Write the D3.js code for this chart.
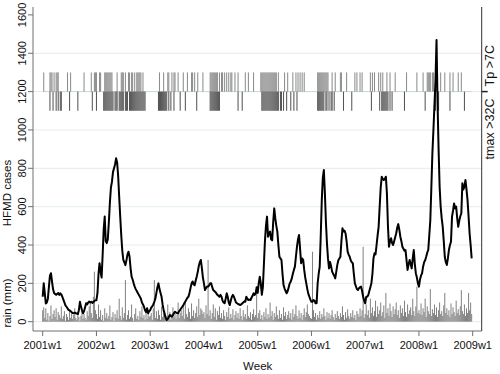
<!DOCTYPE html>
<html>
<head>
<meta charset="utf-8">
<script src="https://cdn.jsdelivr.net/npm/d3@7"></script>
<style>
  body { margin: 0; background: #fff; }
  text { font-family: "Liberation Sans", Arial, sans-serif; fill: #111; }
</style>
</head>
<body>
<div id="chart"></div>
<script>
// weekly HFMD case counts, 2001w1 .. 2008w52 (one row per year)
const hfmdCases = [
  130,200,150,95,100,120,180,240,253,210,170,150,145,140,145,150,140,148,142,130,115,100,85,78,70,61,60,55,50,45,44,48,44,42,40,60,104,80,60,44,55,75,96,90,100,105,100,104,98,102,108,112,
  112,150,250,305,260,230,350,480,548,420,410,430,520,620,700,730,780,800,820,852,830,760,650,548,450,370,322,310,295,320,350,365,340,280,235,220,200,183,170,160,150,140,130,120,100,90,78,60,50,70,44,55,
  60,73,80,90,104,120,150,180,200,170,150,130,90,60,40,20,9,15,25,35,30,26,35,45,52,48,44,44,55,62,70,78,85,96,105,115,125,130,150,175,200,210,195,190,215,235,260,290,310,322,280,230,
  200,165,175,183,183,190,200,200,180,165,160,155,148,140,135,130,140,130,110,100,96,120,148,130,100,87,110,130,140,130,115,100,96,92,90,87,90,95,100,105,104,130,120,113,115,113,125,135,148,140,148,180,
  150,200,235,200,140,180,300,420,500,548,443,460,470,430,425,520,591,540,500,470,400,339,330,322,250,191,173,160,148,160,180,200,210,226,250,270,287,340,391,430,452,380,305,330,322,270,230,200,170,145,130,115,
  104,104,113,110,96,96,200,250,287,450,634,750,791,670,520,409,330,278,311,290,261,250,240,226,260,296,320,330,339,420,487,470,475,460,420,365,350,339,320,310,305,250,200,185,170,165,175,180,183,160,130,110,
  96,130,130,139,160,180,200,250,330,357,351,400,450,495,600,700,756,745,739,745,756,670,500,391,420,435,410,400,420,440,461,490,509,480,443,420,391,380,370,374,320,270,300,322,300,278,330,374,300,252,230,200,
  183,220,240,252,287,310,320,339,360,374,450,530,700,878,1000,1130,1260,1469,1139,900,704,600,540,495,420,339,310,296,330,374,400,417,548,580,617,590,600,540,495,526,550,565,722,690,704,739,690,634,550,461,400,330
];

// weekly rainfall (mm), same weeks
const rainMm = [
  60,75,20,70,10,45,5,30,85,15,40,60,25,70,10,50,35,20,80,15,30,55,5,40,25,10,60,20,45,15,35,70,20,10,50,25,5,30,65,15,40,20,10,55,30,80,100,45,20,130,261,60,
  40,15,90,25,60,10,35,5,70,20,45,15,30,85,10,25,50,5,40,20,60,15,120,30,10,75,20,45,217,10,35,60,15,25,90,20,5,40,70,15,30,10,55,25,80,20,35,10,60,15,40,25,
  30,45,10,70,217,20,55,15,60,35,10,80,25,45,60,15,30,90,20,50,10,40,75,25,55,15,35,100,20,45,60,30,85,15,110,40,25,70,50,15,95,30,60,20,45,80,25,120,35,70,60,40,
  50,20,85,40,322,30,60,15,45,90,25,70,10,55,35,80,20,45,15,60,30,10,50,25,75,15,40,20,65,10,35,55,20,45,15,70,30,10,60,25,40,15,85,30,20,50,10,40,65,25,35,150,
  20,45,60,15,35,10,50,25,70,15,40,20,100,30,55,10,45,25,80,35,15,60,20,40,10,75,30,50,15,35,55,20,45,10,65,25,40,85,30,15,60,20,45,10,35,70,25,50,90,40,30,20,
  15,365,60,25,45,10,35,20,55,15,40,25,70,30,10,50,20,45,15,35,60,25,10,40,20,55,30,15,45,25,80,35,10,50,20,65,30,15,45,25,60,20,35,10,55,40,25,70,30,60,391,20,
  40,90,35,60,20,120,45,75,30,55,110,25,80,40,60,100,30,50,85,20,150,45,70,30,95,55,25,80,40,65,100,35,60,20,85,45,70,30,110,50,25,90,40,60,75,35,120,55,30,80,183,45,
  60,40,95,35,70,50,120,25,80,55,40,170,30,65,45,90,35,75,25,60,100,40,55,30,85,150,45,70,35,60,25,95,40,75,50,30,110,45,65,35,80,165,55,40,90,30,70,45,150,60,100,40
];

// week numbers (0 = 2001w1) flagged in the two strips
const tpWeeks = [1,7,8,9,11,13,14,15,24,27,40,47,50,51,52,55,56,60,61,62,63,64,65,66,67,72,76,77,78,80,83,84,86,87,89,91,92,93,94,95,97,
  113,117,121,122,125,127,128,131,136,140,144,145,147,150,155,162,163,164,165,166,167,168,169,171,173,174,176,178,180,182,183,186,189,196,199,204,
  211,212,213,214,215,216,217,218,219,220,221,222,223,224,225,226,228,234,237,242,245,247,249,251,253,266,267,268,269,270,271,272,273,274,275,276,
  280,283,288,289,294,302,304,307,309,317,319,321,325,327,329,333,336,341,352,362,368,372,373,374,375,377,378,381,385,389,394,397,402,405];
const tmaxWeeks = [7,10,13,15,17,18,26,34,48,52,59,60,61,62,63,64,65,66,67,68,70,71,72,74,75,76,77,78,80,81,82,84,85,86,87,88,89,90,91,92,93,94,95,96,97,98,99,
  112,113,114,115,116,117,118,119,120,122,124,127,133,138,149,162,163,164,165,166,167,168,169,170,171,189,193,
  212,213,214,215,216,217,218,219,220,221,222,223,224,225,226,227,228,230,231,233,236,240,243,246,266,267,268,269,270,271,272,274,275,277,279,280,282,
  291,299,318,326,328,329,330,331,332,333,334,336,338,350,370,380,382,383,394,408];

const yearTicks = [2001,2002,2003,2004,2005,2006,2007,2008,2009];
const yTicks = [0,200,400,600,800,1000,1200,1400,1600];
const stripLabels = [{v: 1335, t: "Tp >7C"}, {v: 1005, t: "tmax >32C"}];

const width = 500, height = 374;
const plotLeft = 33, plotRight = 481.7, plotTop = 7, plotBottom = 331;

const svg = d3.select("#chart").append("svg")
    .attr("width", width)
    .attr("height", height);

const x = d3.scaleLinear().domain([2001, 2009]).range([42.7, 472.7]);
const y = d3.scaleLinear().domain([0, 1600]).range([321.7, 14.9]);
const wk = i => x(2001 + i / 52);
const barW = wk(1) - wk(0);

// gridlines
svg.append("g").selectAll("line")
    .data(yTicks.filter(d => d < 1600))
    .enter().append("line")
    .attr("x1", plotLeft).attr("x2", plotRight)
    .attr("y1", d => y(d)).attr("y2", d => y(d))
    .style("stroke", "#e3ecee").style("stroke-width", 1);

// rain spikes
svg.append("g").selectAll("line")
    .data(rainMm)
    .enter().append("line")
    .attr("x1", (d, i) => wk(i)).attr("x2", (d, i) => wk(i))
    .attr("y1", y(0)).attr("y2", d => y(d))
    .style("stroke", "#808080").style("stroke-width", 1);

// temperature strips around the 1200 line
svg.append("line")
    .attr("x1", wk(0)).attr("x2", wk(hfmdCases.length - 1))
    .attr("y1", y(1200)).attr("y2", y(1200))
    .style("stroke", "#c9d8d8").style("stroke-width", 1);

svg.append("g").selectAll("rect")
    .data(tpWeeks)
    .enter().append("rect")
    .attr("x", d => wk(d) - barW / 2).attr("width", barW)
    .attr("y", y(1300)).attr("height", y(1200) - y(1300))
    .style("fill", "#8c8c8c");

svg.append("g").selectAll("rect")
    .data(tmaxWeeks)
    .enter().append("rect")
    .attr("x", d => wk(d) - barW / 2).attr("width", barW)
    .attr("y", y(1200)).attr("height", y(1100) - y(1200))
    .style("fill", "#555");

// HFMD line
const line = d3.line()
    .x((d, i) => wk(i))
    .y(d => y(d));

svg.append("path")
    .datum(hfmdCases)
    .attr("d", line)
    .style("fill", "none")
    .style("stroke", "#000")
    .style("stroke-width", 2)
    .style("stroke-linejoin", "round");

// axes lines
const axisCol = "#6e6e6e";
svg.append("line").attr("x1", plotLeft).attr("x2", plotLeft).attr("y1", plotTop).attr("y2", plotBottom)
    .style("stroke", axisCol);
svg.append("line").attr("x1", plotLeft).attr("x2", plotRight).attr("y1", plotBottom).attr("y2", plotBottom)
    .style("stroke", axisCol);
svg.append("line").attr("x1", plotRight).attr("x2", plotRight).attr("y1", plotTop).attr("y2", plotBottom)
    .style("stroke", "#333");

// left ticks + rotated labels
const yAx = svg.append("g");
yAx.selectAll("line")
    .data(yTicks)
    .enter().append("line")
    .attr("x1", plotLeft - 5).attr("x2", plotLeft)
    .attr("y1", d => y(d)).attr("y2", d => y(d))
    .style("stroke", axisCol);
yAx.selectAll("text")
    .data(yTicks)
    .enter().append("text")
    .attr("transform", d => `translate(26,${y(d)}) rotate(-90)`)
    .attr("text-anchor", "middle")
    .style("font-size", "11px")
    .text(d => d);

// bottom ticks + labels
const xAx = svg.append("g");
xAx.selectAll("line")
    .data(yearTicks)
    .enter().append("line")
    .attr("x1", d => x(d)).attr("x2", d => x(d))
    .attr("y1", plotBottom).attr("y2", plotBottom + 5)
    .style("stroke", axisCol);
xAx.selectAll("text")
    .data(yearTicks)
    .enter().append("text")
    .attr("x", d => x(d)).attr("y", 348.5)
    .attr("text-anchor", "middle")
    .style("font-size", "11px")
    .text(d => d + "w1");

// right axis tick + strip labels
svg.append("line")
    .attr("x1", plotRight).attr("x2", plotRight + 6)
    .attr("y1", y(1200)).attr("y2", y(1200))
    .style("stroke", "#222").style("stroke-width", 1.5);
svg.append("g").selectAll("text")
    .data(stripLabels)
    .enter().append("text")
    .attr("transform", d => `translate(494,${y(d.v)}) rotate(-90)`)
    .attr("text-anchor", "middle")
    .style("font-size", "12.5px")
    .text(d => d.t);

// axis titles
svg.append("text")
    .attr("transform", "translate(11,193) rotate(-90)")
    .attr("text-anchor", "middle")
    .style("font-size", "11.5px")
    .text("HFMD cases");
svg.append("text")
    .attr("transform", "translate(11,303) rotate(-90)")
    .attr("text-anchor", "middle")
    .style("font-size", "11.5px")
    .text("rain (mm)");
svg.append("text")
    .attr("x", x(2005)).attr("y", 370)
    .attr("text-anchor", "middle")
    .style("font-size", "11.5px")
    .text("Week");
</script>
</body>
</html>
